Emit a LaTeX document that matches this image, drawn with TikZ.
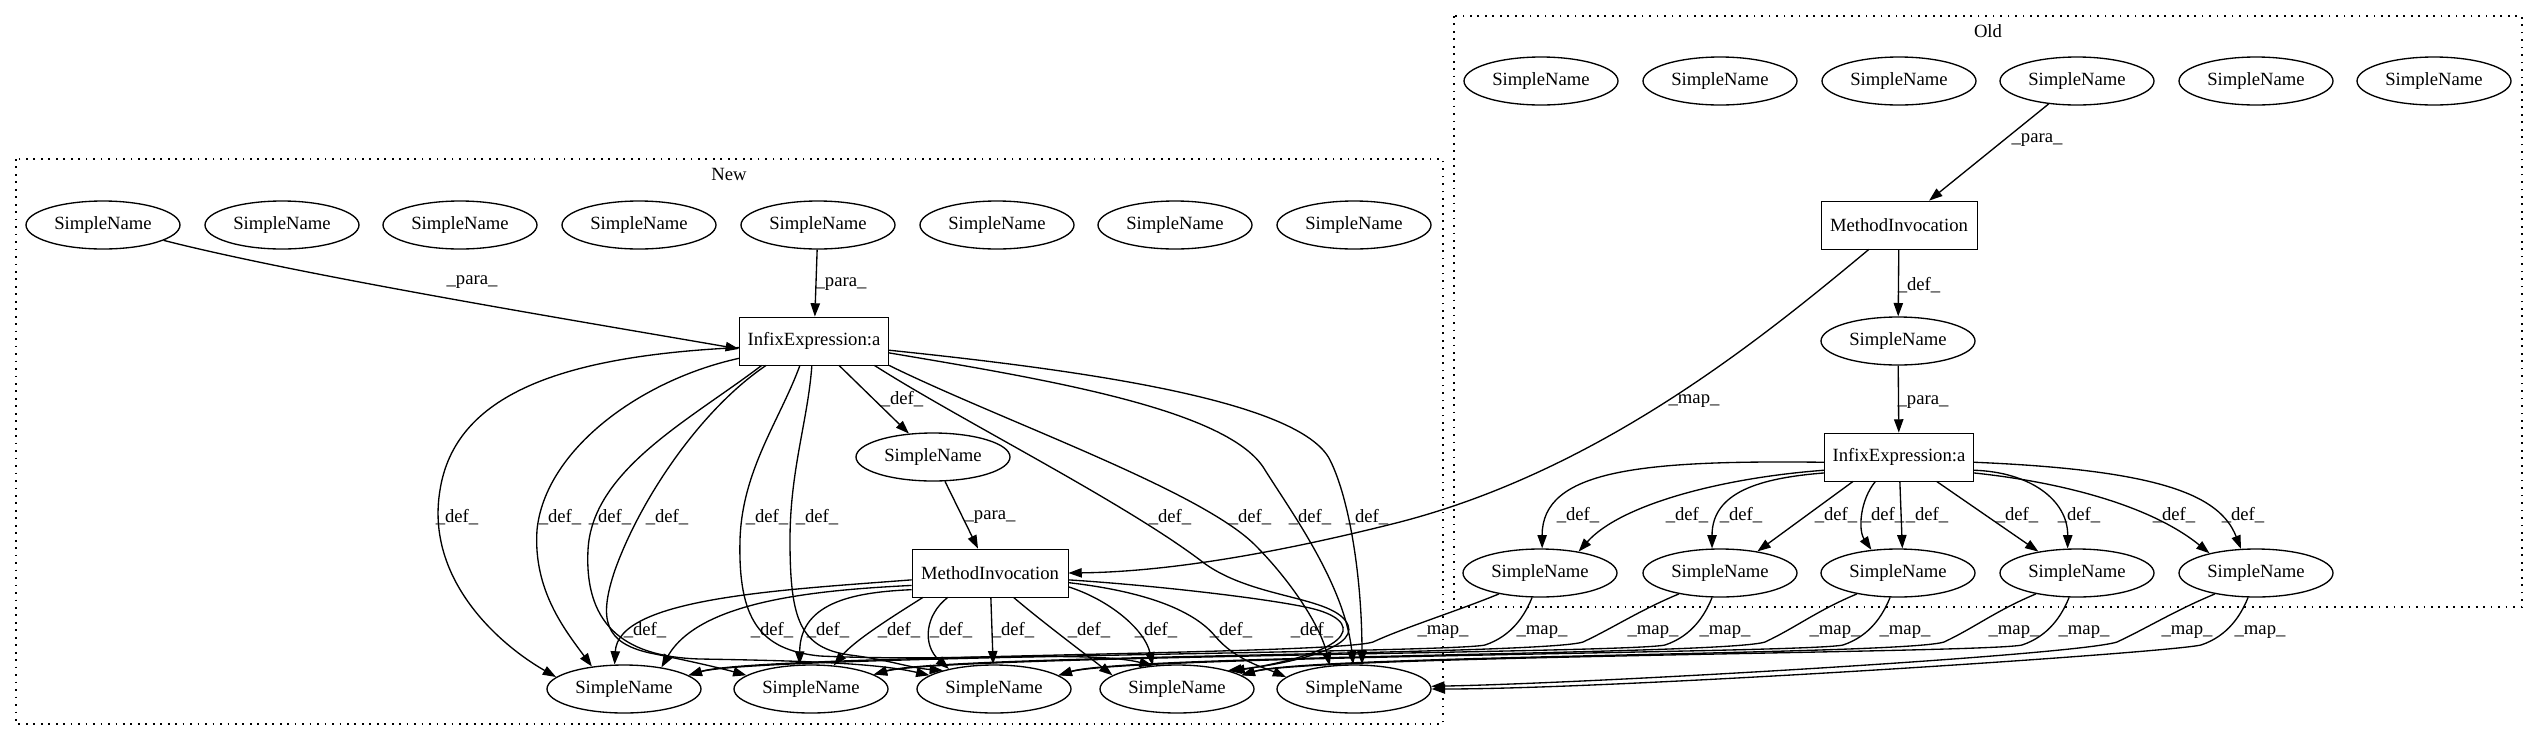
\documentclass[tikz,border=0pt]{standalone}
\usepackage{fontspec}
\setmainfont{Liberation Serif}
\usetikzlibrary{arrows.meta,shapes.geometric}
\tikzset{
  sn/.style={ellipse, draw, line width=1pt, minimum width=115.5pt, minimum height=36pt, inner sep=0pt},
  bx/.style={rectangle, draw, line width=0.6pt, minimum height=36pt, inner sep=0pt},
  edg/.style={line width=1pt, -{Triangle[length=10pt,width=7pt]}},
  lbl/.style={inner sep=0pt},
  clus/.style={line width=1pt, dash pattern=on 1.3pt off 4.3pt}
}
\begin{document}
\begin{tikzpicture}[x=0.75pt,y=-0.75pt,font=\fontsize{14pt}{16.8pt}\selectfont]
\fill[white] (0,0) rectangle (2539,740);
\useasboundingbox (0,0) rectangle (2539,740);
% clusters
\draw[clus] (16,159) rectangle (1443,724);
\node[lbl] (lNew) at (729,174) {New};
\draw[clus] (1454,16) rectangle (2522,607);
\node[lbl] (lOld) at (1988,31) {Old};
% New nodes
\foreach \i/\x in {1/103,2/282,3/460,4/639,5/818,6/997,7/1175,8/1354}
  \node[sn] (nt\i) at (\x,225) {SimpleName};
\node[bx, minimum width=112pt] (infN) at (814,341) {InfixExpression:a};
\node[sn] (snN) at (933,457) {SimpleName};
\node[bx, minimum width=117pt] (miN) at (990,573) {MethodInvocation};
\foreach \i/\x in {1/624,2/811,3/994,4/1177,5/1354}
  \node[sn] (nb\i) at (\x,689) {SimpleName};
% Old nodes
\foreach \i/\x in {1/1541,2/1720,3/1899,4/2077,5/2256,6/2434}
  \node[sn] (ot\i) at (\x,81) {SimpleName};
\node[bx, minimum width=117pt] (miO) at (1899,225) {MethodInvocation};
\node[sn] (snO) at (1898,341) {SimpleName};
\node[bx, minimum width=112pt] (infO) at (1899,457) {InfixExpression:a};
\foreach \i/\x in {1/1540,2/1720,3/1898,4/2077,5/2256}
  \node[sn] (ob\i) at (\x,573) {SimpleName};

% ---- New edges
\draw[edg] (nt1) .. controls (300,275) and (560,318) .. (infN.186);
\node[lbl] (pa1) at (472,282) {\_para\_};
\draw[edg] (nt5) -- (infN);
\node[lbl] (pa2) at (841,284) {\_para\_};
\draw[edg] (infN) -- (snN);
\node[lbl] (de0) at (902,399) {\_def\_};
\draw[edg] (snN) -- (miN);
\node[lbl] (pa3) at (990,517) {\_para\_};

% Infix (new) defs
\draw[edg] (infN.185) .. controls (560,356) and (455,395) .. (440,490) .. controls (425,580) and (500,645) .. (nb1.170);
\draw[edg] (infN.193) .. controls (640,380) and (545,450) .. (537,530) .. controls (533,590) and (565,630) .. (nb1.145);
\draw[edg] (infN.205) .. controls (690,420) and (592,470) .. (588,550) .. controls (584,630) and (630,657) .. (700,659) .. controls (820,661) and (880,664) .. (nb3.168);
\draw[edg] (infN.207) .. controls (700,410) and (640,500) .. (615,570) .. controls (598,620) and (605,643) .. (650,653) .. controls (690,661) and (720,668) .. (nb2.168);
\draw[edg] (infN.240) .. controls (780,420) and (742,470) .. (740,540) .. controls (738,620) and (760,650) .. (820,656) .. controls (950,662) and (1090,650) .. (nb4.136);
\draw[edg] (infN.265) .. controls (808,420) and (790,470) .. (790,540) .. controls (790,620) and (800,648) .. (850,655) .. controls (890,660) and (910,668) .. (nb3.160);
\draw[edg] (infN.-22) .. controls (960,420) and (1120,500) .. (1200,560) .. controls (1250,600) and (1335,595) .. (1348,625) .. controls (1358,650) and (1280,665) .. (nb4.20);
\draw[edg] (infN.-18) .. controls (1000,420) and (1200,490) .. (1255,545) .. controls (1290,580) and (1320,625) .. (nb5.136);
\draw[edg] (infN.-9) .. controls (1050,380) and (1230,410) .. (1265,470) .. controls (1290,510) and (1345,585) .. (nb5.92);
\draw[edg] (infN.-7) .. controls (1080,370) and (1300,400) .. (1330,460) .. controls (1350,500) and (1362,580) .. (nb5.72);
\foreach \x [count=\k] in {457,560,610,667,767,817,1170,1250,1310,1367}
  \node[lbl] (di\k) at (\x,517) {\_def\_};

% MethodInvocation (new) defs
\draw[edg] (miN.185) .. controls (780,590) and (618,598) .. (nb1.111);
\draw[edg] (miN.189) .. controls (820,590) and (700,600) .. (nb1.30);
\draw[edg] (miN.192) .. controls (860,592) and (800,600) .. (nb2.115);
\draw[edg] (miN.200) .. controls (895,615) and (855,640) .. (nb2.46);
\draw[edg] (miN.210) .. controls (925,615) and (922,645) .. (nb3.156);
\draw[edg] (miN) -- (nb3);
\draw[edg] (miN.314) .. controls (1040,620) and (1080,650) .. (nb4.168);
\draw[edg] (miN.-10) .. controls (1110,600) and (1145,630) .. (nb4.136);
\draw[edg] (miN.-7) .. controls (1150,592) and (1195,612) .. (1215,636) .. controls (1235,660) and (1265,668) .. (nb5.170);
\draw[edg] (miN.-5) .. controls (1150,585) and (1265,598) .. (1310,608) .. controls (1362,620) and (1362,650) .. (nb4.18);
\foreach \x [count=\k] in {645,772,828,899,951,1013,1089,1156,1231,1312}
  \node[lbl] (dm\k) at (\x,630) {\_def\_};

% ---- Old edges
\draw[edg] (ot4) -- (miO);
\node[lbl] (pa4) at (2037,140) {\_para\_};
\draw[edg] (miO) -- (snO);
\node[lbl] (de1) at (1919,285) {\_def\_};
\draw[edg] (snO) -- (infO);
\node[lbl] (pa5) at (1923,402) {\_para\_};

\draw[edg] (infO.184) .. controls (1640,460) and (1542,470) .. (ob1.85);
\draw[edg] (infO.190) .. controls (1720,478) and (1620,505) .. (ob1.29);
\draw[edg] (infO.192) .. controls (1760,478) and (1712,492) .. (ob2.108);
\draw[edg] (infO.208) -- (ob2.30);
\draw[edg] (infO.226) .. controls (1860,500) and (1858,530) .. (ob3.139);
\draw[edg] (infO.272) -- (ob3.80);
\draw[edg] (infO.-33) -- (ob4.151);
\draw[edg] (infO.-10) .. controls (2030,472) and (2068,500) .. (ob4.111);
\draw[edg] (infO.-12) .. controls (2060,482) and (2150,505) .. (ob5.157);
\draw[edg] (infO.-4) .. controls (2160,470) and (2220,495) .. (ob5.122);
\foreach \x [count=\k] in {1578,1687,1741,1836,1883,1927,2017,2079,2174,2243}
  \node[lbl] (do\k) at (\x,515) {\_def\_};

% ---- map edges
\draw[edg] (miO.219) .. controls (1760,340) and (1600,470) .. (1400,522) .. controls (1250,560) and (1150,572) .. (miN.east);
\node[lbl] (mp0) at (1694,401) {\_map\_};

\draw[edg] (ob1.207) .. controls (1460,610) and (1403,628) .. (1373,642) .. controls (1333,655) and (754,655) .. (nb1.12);
\draw[edg] (ob1.252) .. controls (1525,615) and (1512,636) .. (1485,645) .. controls (1450,653) and (754,656) .. (nb1.12);
\draw[edg] (ob2.207) .. controls (1640,610) and (1613,628) .. (1583,642) .. controls (1543,655) and (941,655) .. (nb2.13);
\draw[edg] (ob2.252) .. controls (1705,615) and (1692,636) .. (1665,645) .. controls (1630,653) and (941,656) .. (nb2.13);
\draw[edg] (ob3.207) .. controls (1818,610) and (1795,628) .. (1765,642) .. controls (1725,655) and (1124,655) .. (nb3.12);
\draw[edg] (ob3.252) .. controls (1883,615) and (1870,636) .. (1843,645) .. controls (1808,653) and (1124,656) .. (nb3.12);
\draw[edg] (ob4.207) .. controls (1997,610) and (1974,628) .. (1944,642) .. controls (1904,655) and (1307,655) .. (nb4.12);
\draw[edg] (ob4.252) .. controls (2062,615) and (2049,636) .. (2022,645) .. controls (1987,653) and (1307,656) .. (nb4.12);
\draw[edg] (ob5.207) .. controls (2176,610) and (2147,628) .. (2117,642) .. controls (2077,655) and (1600,683) .. (nb5.2);
\draw[edg] (ob5.252) .. controls (2241,615) and (2228,636) .. (2201,645) .. controls (2166,653) and (1620,689) .. (nb5.0);
\foreach \x [count=\k] in {1443,1542,1653,1725,1835,1905,2014,2084,2187,2260}
  \node[lbl] (mp\k) at (\x,632) {\_map\_};
\end{tikzpicture}
\end{document}
